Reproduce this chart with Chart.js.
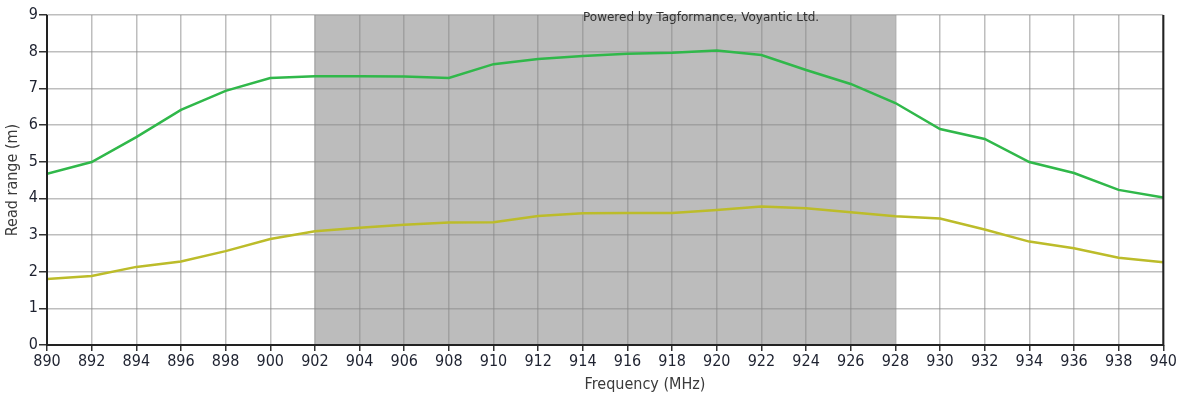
<!DOCTYPE html>
<html lang="en">
<head>
  <meta charset="UTF-8" />
  <title>Read range</title>
  <style>
    body {
      margin: 0;
      padding: 0;
      background: #fff;
    }

    #wrap {
      width: 1178px;
      height: 401px;
    }
  </style>
</head>
<body>
  <div id="wrap">
    <canvas id="rangeChart" width="1178" height="401"></canvas>
  </div>

  <script src="https://cdn.jsdelivr.net/npm/chart.js"></script>
  <script>
    const frequencies = [890, 892, 894, 896, 898, 900, 902, 904, 906, 908, 910, 912, 914,
                         916, 918, 920, 922, 924, 926, 928, 930, 932, 934, 936, 938, 940];
    const greenRange = [4.67, 4.99, 5.67, 6.41, 6.93, 7.28, 7.33, 7.33, 7.32, 7.28, 7.66, 7.8, 7.88,
                        7.94, 7.97, 8.03, 7.91, 7.5, 7.12, 6.6, 5.89, 5.62, 4.99, 4.69, 4.23, 4.02];
    const yellowRange = [1.8, 1.88, 2.13, 2.28, 2.56, 2.89, 3.1, 3.2, 3.28, 3.34, 3.35, 3.52, 3.59,
                         3.6, 3.6, 3.68, 3.78, 3.73, 3.62, 3.51, 3.45, 3.15, 2.82, 2.64, 2.38, 2.26];
    const bandLimits = [902, 928];
    const watermark = "Powered by Tagformance, Voyantic Ltd.";
    const xTitle = "Frequency (MHz)";

    const fontFamily = "'DejaVu Sans Condensed', 'DejaVu Sans', sans-serif";
    const toPoints = (vals) => vals.map((v, i) => ({ x: frequencies[i], y: v }));

    // grey band under the grid, frame + texts on top
    const bandPlugin = {
      id: "band",
      beforeDraw(chart) {
        const { ctx, chartArea, scales } = chart;
        const x1 = scales.x.getPixelForValue(bandLimits[0]);
        const x2 = scales.x.getPixelForValue(bandLimits[1]);
        ctx.save();
        ctx.fillStyle = "#bcbcbc";
        ctx.fillRect(x1, chartArea.top, x2 - x1, chartArea.bottom - chartArea.top);
        ctx.restore();
      },
      afterDraw(chart) {
        const { ctx, chartArea } = chart;
        ctx.save();
        ctx.strokeStyle = "#222";
        ctx.lineWidth = 2;
        ctx.beginPath();
        ctx.moveTo(chartArea.left, chartArea.top);
        ctx.lineTo(chartArea.left, chartArea.bottom);
        ctx.lineTo(chartArea.right, chartArea.bottom);
        ctx.lineTo(chartArea.right, chartArea.top);
        ctx.stroke();

        ctx.fillStyle = "#333";
        ctx.font = "12px 'DejaVu Sans'";
        ctx.textBaseline = "middle";
        ctx.fillText(watermark, 583, chartArea.top + 3);

        ctx.fillStyle = "#3a3a3a";
        ctx.font = "16px " + fontFamily;
        ctx.textAlign = "center";
        ctx.fillText(xTitle, 645, 385);
        ctx.restore();
      }
    };

    const tickFont = { family: fontFamily, size: 16 };

    new Chart(document.getElementById("rangeChart").getContext("2d"), {
      type: "line",
      data: {
        datasets: [
          {
            data: toPoints(greenRange),
            borderColor: "#30b84a",
            borderWidth: 2.5,
            pointRadius: 0,
            tension: 0
          },
          {
            data: toPoints(yellowRange),
            borderColor: "#bcbc2a",
            borderWidth: 2.5,
            pointRadius: 0,
            tension: 0
          }
        ]
      },
      options: {
        responsive: false,
        animation: false,
        layout: { padding: { top: 15, right: 14, left: 0, bottom: 0 } },
        plugins: {
          legend: { display: false },
          tooltip: { enabled: false }
        },
        scales: {
          x: {
            type: "linear",
            min: 890,
            max: 940,
            afterFit(scale) { scale.height = 56; },
            ticks: { stepSize: 2, color: "#1e2230", font: tickFont, padding: 1, maxRotation: 0 },
            grid: { color: "rgba(137,137,137,0.55)", lineWidth: 1.5, tickColor: "#333", tickLength: 6, tickWidth: 1.5 },
            border: { display: false }
          },
          y: {
            min: 0,
            max: 9,
            afterFit(scale) { scale.width = 47; },
            ticks: { stepSize: 1, color: "#1e2230", font: tickFont, padding: 1 },
            grid: { color: "rgba(137,137,137,0.55)", lineWidth: 1.5, tickColor: "#333", tickLength: 8, tickWidth: 1.5 },
            border: { display: false },
            title: { display: true, text: "Read range (m)", color: "#3a3a3a", font: tickFont, padding: { top: 3 } }
          }
        }
      },
      plugins: [bandPlugin]
    });
  </script>
</body>
</html>
